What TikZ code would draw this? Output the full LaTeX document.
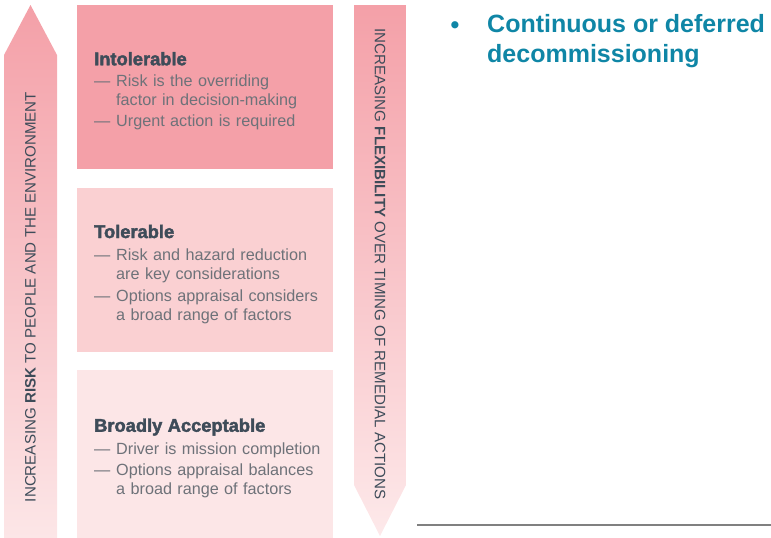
\documentclass[tikz,border=0pt]{standalone}
\usepackage{fontspec}
\setmainfont{Liberation Sans}
\newfontfamily\heavyfont[FakeBold=2.2]{Liberation Sans Bold}
\usepackage{tikz}
\usetikzlibrary{positioning}

\definecolor{darkpink}{HTML}{F4A0A8}
\definecolor{midpink}{HTML}{FAD0D2}
\definecolor{lightpink}{HTML}{FCE6E7}
\definecolor{tippink}{HTML}{FDE9EA}
\definecolor{headgray}{HTML}{3E4C59}
\definecolor{bodygray}{HTML}{6E7279}
\definecolor{bulletteal}{HTML}{0F86A6}
\definecolor{rulegray}{HTML}{808080}

\newcommand{\dashline}[1]{\mbox{\makebox[22pt][l]{—}#1}}
\newcommand{\contline}[1]{\mbox{\hspace*{22pt}#1}}
\newcommand{\boxhead}[1]{\mbox{\rule{0pt}{21pt}\fontsize{18.3}{20}\heavyfont\color{headgray}#1}}

\tikzset{
  riskbox/.style={rectangle, anchor=north west, minimum width=256pt, text width=222pt,
    inner xsep=17pt, align=left, text=bodygray, font=\fontsize{16.2}{18.5}\selectfont},
  arrowtext/.style={text=headgray, font=\fontsize{15.1}{17}\selectfont}
}

\begin{document}
\begin{tikzpicture}[x=1pt, y=-1pt]
\useasboundingbox (0,0) rectangle (771,538);

%arrows
\shade [top color=darkpink, bottom color=lightpink] (4,538) -- (4,55) -- (30.5,5) -- (57,55) -- (57,538) -- cycle;
\shade [top color=darkpink, bottom color=tippink] (354,5) -- (406,5) -- (406,485) -- (380,536) -- (354,485) -- cycle;

\node (risk) [arrowtext, rotate=90] at (30.5,297) {INCREASING \textbf{RISK} TO PEOPLE AND THE ENVIRONMENT};
\node (flex) [arrowtext, rotate=-90] at (380,264) {INCREASING \textbf{FLEXIBILITY} OVER TIMING OF REMEDIAL ACTIONS};

%boxes
\node (intol) [riskbox, fill=darkpink, minimum height=164pt] at (77,5) {%
  \boxhead{Intolerable}\\[3pt]
  \dashline{Risk is the overriding}\\
  \contline{factor in decision-making}\\[3pt]
  \dashline{Urgent action is required}};

\node (tol) [riskbox, fill=midpink, minimum height=164pt] at (77,188) {%
  \boxhead{Tolerable}\\[4pt]
  \dashline{Risk and hazard reduction}\\
  \contline{are key considerations}\\[4pt]
  \dashline{Options appraisal considers}\\
  \contline{a broad range of factors}};

\node (accept) [riskbox, fill=lightpink, minimum height=168pt] at (77,370) {%
  \boxhead{Broadly Acceptable}\\[4pt]
  \dashline{Driver is mission completion}\\[3pt]
  \dashline{Options appraisal balances}\\
  \contline{a broad range of factors}};

%bullet text
\node (bullet) [anchor=base, text=bulletteal, font=\fontsize{25}{30}\selectfont\bfseries] at (455,33) {•};
\node (decomm) [anchor=north west, align=left, text=bulletteal, font=\fontsize{25}{30}\selectfont\bfseries, inner sep=0pt] at (487,14) {Continuous or deferred\\decommissioning};

\coordinate (rulestart) at (417,524.5);
\coordinate (ruleend) at (771,524.5);
\draw [rulegray, line width=2pt] (rulestart) -- (ruleend);

\end{tikzpicture}
\end{document}
